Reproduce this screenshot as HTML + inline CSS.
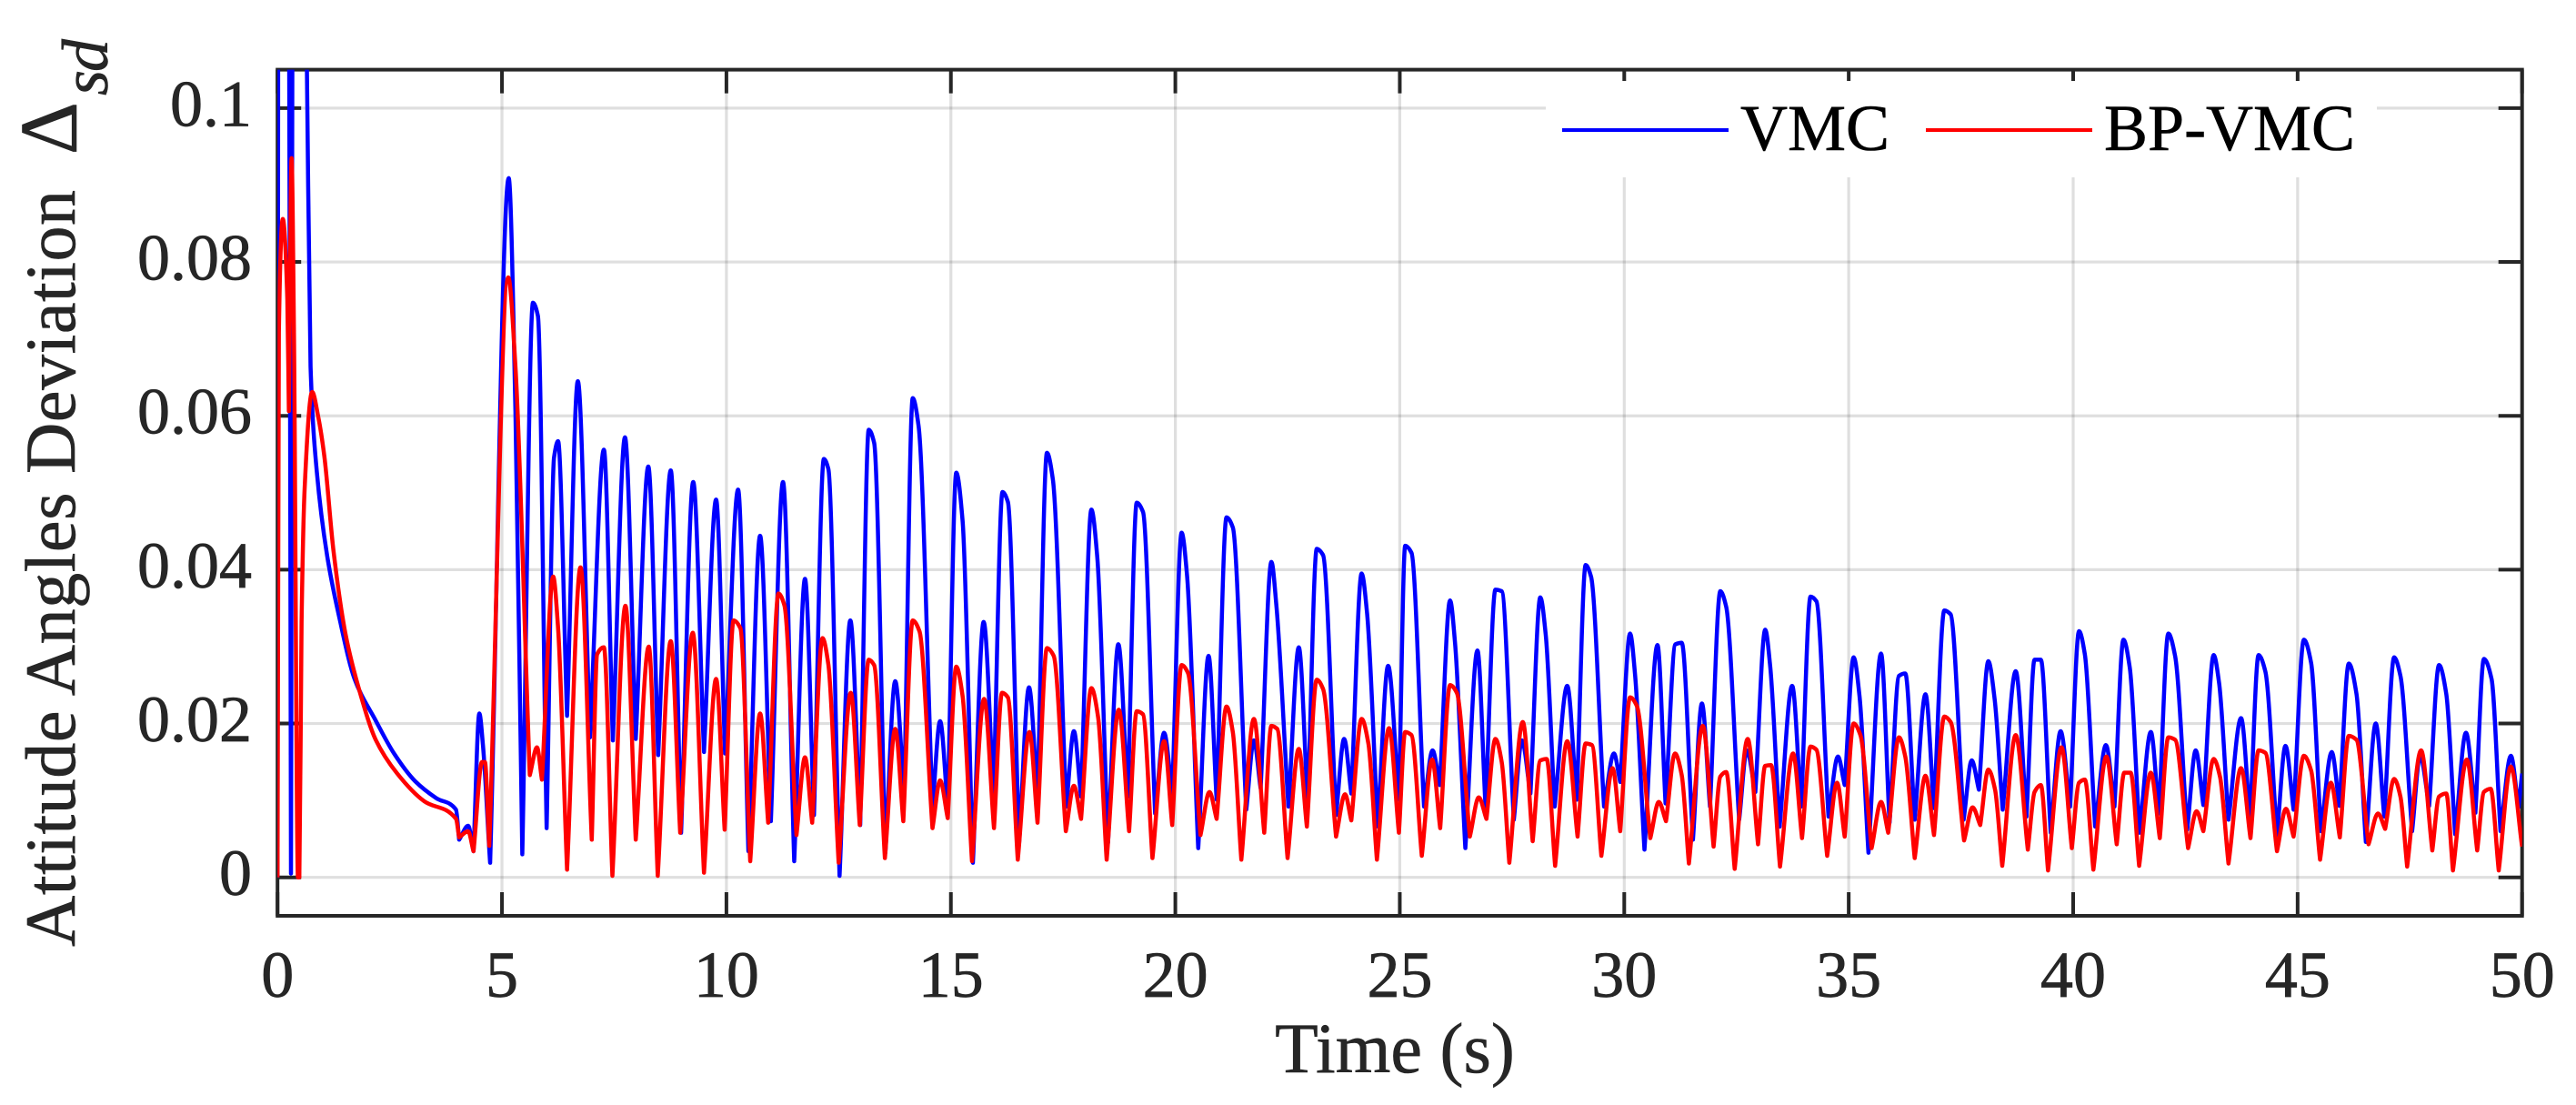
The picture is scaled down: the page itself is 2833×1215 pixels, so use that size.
<!DOCTYPE html>
<html lang="en">
<head>
<meta charset="utf-8">
<title>Attitude Angles Deviation</title>
<style>
html,body{margin:0;padding:0;background:#fff;width:2833px;height:1215px;overflow:hidden}
svg{display:block}
text{font-family:"Liberation Serif",serif}
</style>
</head>
<body>
<svg id="chart" width="2833" height="1215" viewBox="0 0 2833 1215" xmlns="http://www.w3.org/2000/svg">
  <defs><clipPath id="plot-clip"><rect x="305.2" y="76.6" width="2468.5" height="930.4"/></clipPath></defs>
  <rect x="0" y="0" width="2833" height="1215" fill="#fff"/>
  <g id="grid"></g>
  <g id="axes"></g>
  <g id="series" clip-path="url(#plot-clip)"></g>
  <g>
    <rect x="1700" y="89" width="914" height="106" fill="#fff"/>
    <line x1="1718" y1="143" x2="1901" y2="143" stroke="#0000ff" stroke-width="4"/>
    <text x="1914" y="165" font-size="72" fill="#000" stroke="#000" stroke-width="0.6">VMC</text>
    <line x1="2118" y1="143" x2="2301" y2="143" stroke="#ff0000" stroke-width="4"/>
    <text x="2314" y="165" font-size="72" fill="#000" stroke="#000" stroke-width="0.6">BP-VMC</text>
  </g>
  <text x="1534" y="1179" font-size="78" fill="#262626" stroke="#262626" stroke-width="0.6" text-anchor="middle">Time (s)</text>
  <g fill="#262626" stroke="#262626" stroke-width="0.6">
    <text transform="translate(82,1041) rotate(-90)" font-size="78" textLength="832">Attitude Angles Deviation</text>
    <text transform="translate(84,170) rotate(-90)" font-size="90">Δ</text>
    <text transform="translate(118,105) rotate(-90)" font-size="72" font-style="italic" textLength="62">sd</text>
  </g>
</svg>
<script>
const xTickValues = [0, 5, 10, 15, 20, 25, 30, 35, 40, 45, 50];
const yTickValues = [0, 0.02, 0.04, 0.06, 0.08, 0.1];
const xTickLabels = ['0', '5', '10', '15', '20', '25', '30', '35', '40', '45', '50'];
const yTickLabels = ['0', '0.02', '0.04', '0.06', '0.08', '0.1'];

const vmcTime = [
0,.008,.02,.25,.3,.345,.6,.655,.736,.876,1.106,1.376,1.716,2.186,2.596,3.066,3.536,3.976,4.046,4.246,4.366,4.496,4.576,4.736,
5.15,5.3,5.453,5.69,5.8,5.995,6.16,6.25,6.45,6.69,6.96,7.27,7.47,7.74,7.98,8.26,8.48,8.76,8.99,9.26,9.5,9.77,9.97,
10.26,10.49,10.75,10.99,11.26,11.51,11.75,11.95,12.17,12.27,12.52,12.76,12.98,13.17,13.29,13.54,13.76,13.96,14.15,14.28,14.59,14.76,14.93,
15.12,15.26,15.49,15.73,15.95,16.15,16.27,16.52,16.74,16.93,17.14,17.27,17.57,17.74,17.9,18.13,18.26,18.5,18.73,18.94,19.14,19.28,19.55,19.75,19.93,
20.14,20.26,20.51,20.74,20.92,21.14,21.28,21.58,21.75,21.9,22.14,22.25,22.52,22.75,22.95,23.15,23.29,23.58,23.76,23.92,24.15,24.27,24.51,24.74,24.98,
25.12,25.26,25.54,25.73,25.89,26.12,26.23,26.46,26.73,26.91,27.13,27.27,27.54,27.72,27.91,28.13,28.25,28.45,28.73,28.94,29.14,29.26,29.55,29.77,29.91,
30.13,30.24,30.45,30.74,30.92,31.14,31.28,31.53,31.73,31.91,32.14,32.27,32.56,32.73,32.92,33.14,33.25,33.46,33.74,33.94,34.15,34.28,34.55,34.76,34.91,
35.11,35.24,35.44,35.72,35.91,36.12,36.26,36.47,36.71,36.9,37.13,37.27,37.56,37.74,37.9,38.11,38.25,38.43,38.72,38.96,39.14,39.28,39.5,39.72,39.93,
40.13,40.26,40.49,40.73,40.92,41.12,41.26,41.48,41.73,41.91,42.12,42.27,42.54,42.73,42.9,43.13,43.25,43.46,43.74,43.94,44.13,44.28,44.54,44.73,44.91,
45.14,45.3,45.52,45.76,45.93,46.14,46.31,46.52,46.74,46.93,47.15,47.29,47.55,47.73,47.93,48.15,48.31,48.51,48.75,48.96,49.15,49.32,49.52,49.75,49.92,50
];
const vmcDeviation = [
0,.06,.13,.13,.0005,.13,.13,.105,.0664,.0527,.0418,.0338,.0258,.0204,.0161,.0125,.0103,.0088,.0049,.0067,.0034,.0213,.0172,.0019,
.0909,.0606,.003,.0747,.073,.0064,.0546,.0567,.021,.0645,.0182,.0556,.0178,.0572,.018,.0534,.0159,.0529,.0058,.0514,.0163,.0491,.0161,
.0504,.0034,.0444,.0073,.0514,.0021,.0388,.0081,.0544,.0531,.0002,.0334,.0068,.0582,.0565,.0032,.0255,.0109,.0623,.0587,.0092,.0203,.0092,
.0526,.0464,.0019,.0332,.0109,.0501,.0488,.0045,.0247,.0105,.0552,.0518,.0092,.019,.0105,.0478,.0417,.0045,.0303,.0105,.0487,.0475,.0083,.0188,.0109,
.0448,.0393,.0038,.0288,.0101,.0468,.0455,.0088,.0178,.0116,.041,.0354,.0092,.0299,.0096,.0427,.0419,.0081,.018,.0109,.0395,.0344,.0066,.0275,.0101,
.0431,.0422,.0092,.0165,.012,.036,.0305,.0038,.0295,.0092,.0374,.0372,.0075,.0178,.0109,.0364,.0316,.0092,.0249,.0101,.0406,.0391,.0092,.0161,.0124,
.0317,.0264,.0036,.0302,.0096,.0303,.0305,.0049,.0226,.0092,.0372,.0352,.0075,.0165,.0111,.0322,.0275,.0066,.0249,.0092,.0365,.0359,.0079,.0157,.012,
.0286,.0236,.0032,.0291,.0071,.0262,.0265,.0075,.0238,.009,.0347,.0342,.0075,.0152,.0114,.0281,.0232,.0088,.0268,.0079,.0283,.0283,.0058,.019,.0092,
.032,.029,.0066,.0172,.0092,.0309,.0273,.0058,.0189,.0083,.0317,.0288,.0062,.0165,.0094,.0289,.0253,.0075,.0207,.0077,.0289,.0268,.0055,.0171,.0088,
.0309,.0279,.006,.0163,.0093,.0278,.0239,.0046,.02,.0079,.0286,.0262,.006,.0158,.0093,.0276,.0239,.0056,.0188,.0084,.0284,.0258,.006,.0158,.0091,.0135
];

const bpVmcTime = [
0,.03,.118,.219,.253,.313,.366,.456,.486,.536,.604,.772,.906,1.042,1.246,1.516,1.853,2.186,2.666,3.266,3.976,4.046,4.246,4.366,4.556,4.62,4.716,
5.14,5.3,5.62,5.78,5.89,6.14,6.25,6.45,6.75,7,7.12,7.27,7.46,7.75,7.98,8.27,8.47,8.76,8.97,9.25,9.5,9.77,9.96,
10.16,10.31,10.53,10.75,10.93,11.16,11.29,11.56,11.75,11.91,12.14,12.27,12.5,12.77,12.97,13.17,13.29,13.53,13.76,13.94,14.15,14.3,14.59,14.76,14.93,
15.12,15.26,15.47,15.74,15.96,16.14,16.27,16.49,16.75,16.93,17.14,17.29,17.56,17.74,17.9,18.13,18.28,18.47,18.74,18.97,19.14,19.28,19.49,19.75,19.93,
20.14,20.28,20.56,20.76,20.92,21.14,21.28,21.47,21.75,21.98,22.14,22.27,22.5,22.75,22.93,23.15,23.29,23.58,23.78,23.92,24.15,24.3,24.49,24.76,24.98,
25.12,25.26,25.49,25.72,25.9,26.12,26.27,26.56,26.76,26.93,27.13,27.27,27.44,27.74,27.96,28.13,28.27,28.46,28.73,28.96,29.14,29.28,29.49,29.74,29.91,
30.13,30.28,30.58,30.77,30.93,31.13,31.28,31.44,31.75,31.99,32.14,32.27,32.46,32.75,32.98,33.14,33.27,33.47,33.76,33.96,34.15,34.28,34.52,34.74,34.91,
35.11,35.26,35.51,35.72,35.88,36.12,36.26,36.47,36.71,36.9,37.13,37.27,37.57,37.76,37.93,38.11,38.26,38.42,38.72,38.99,39.14,39.28,39.44,39.74,39.97,
40.13,40.26,40.45,40.74,40.97,41.14,41.28,41.47,41.73,41.93,42.12,42.27,42.56,42.75,42.9,43.13,43.27,43.46,43.74,43.95,44.13,44.28,44.54,44.74,44.91,
45.14,45.3,45.5,45.74,45.94,46.14,46.31,46.58,46.79,46.95,47.15,47.29,47.44,47.75,48,48.15,48.31,48.46,48.77,49,49.15,49.3,49.48,49.75,50
];
const bpVmcDeviation = [
0,.0708,.0856,.0751,.0606,.0935,.0708,0,0,.0332,.0505,.0631,.0599,.0548,.0425,.0316,.0237,.0179,.0135,.0099,.0076,.0052,.006,.0034,.015,.015,.0041,
.078,.0664,.0133,.0169,.0127,.0391,.0324,.001,.0403,.0049,.029,.0299,.0002,.0353,.0049,.03,.0002,.0307,.0058,.0318,.0006,.0258,.0062,
.0334,.0324,.0021,.0213,.0071,.0369,.0354,.0055,.0156,.0071,.0311,.0277,.0019,.024,.0068,.0283,.0276,.0025,.0193,.0073,.0334,.032,.0064,.0126,.0077,
.0274,.0236,.0021,.0232,.0064,.024,.0234,.0023,.0189,.0071,.0298,.0288,.006,.0119,.0076,.0246,.0208,.0023,.0218,.006,.0216,.0212,.0025,.0177,.0068,
.0276,.0266,.0055,.0111,.0076,.0222,.0189,.0023,.0206,.0058,.0197,.0193,.0025,.0167,.0066,.0257,.0245,.0053,.0108,.0074,.0206,.0174,.0023,.0194,.0058,
.0189,.0185,.0028,.0153,.0064,.025,.024,.0053,.0104,.0076,.018,.015,.0019,.0202,.0047,.0152,.0154,.0015,.0177,.0053,.0174,.0172,.0028,.0142,.006,
.0234,.0223,.0051,.0098,.0073,.0161,.0133,.0018,.0197,.004,.0131,.0137,.0011,.018,.0043,.0145,.0146,.0014,.0161,.0051,.017,.0166,.0028,.0123,.0053,
.02,.0185,.0038,.0098,.0058,.0182,.0157,.0025,.0132,.0055,.0209,.0202,.0048,.0091,.0068,.014,.0114,.0015,.0185,.0036,.0111,.012,.0009,.0169,.0038,
.0123,.0127,.001,.0157,.0043,.0136,.0136,.0015,.0136,.0051,.0182,.0179,.0038,.0086,.006,.0154,.0131,.0018,.0142,.0051,.0165,.0162,.0034,.0089,.0053,
.0158,.0139,.0023,.0123,.0052,.0184,.0179,.0043,.0083,.0063,.0128,.0105,.0014,.0165,.0035,.0105,.0109,.0009,.0153,.0035,.0111,.0115,.0009,.0144,.004
];

const SVGNS = 'http://www.w3.org/2000/svg';
const plotLeft = 305.2, plotRight = 2773.7;
const zeroY = 964.7, yPerUnit = 8458;
const xDomainMax = 50, yDomainMin = -0.005, yDomainMax = 0.105;
const troughSharpness = 0.9;
function xScale(t) { return plotLeft + (t / xDomainMax) * (plotRight - plotLeft); }
function yScale(v) { return zeroY - v * yPerUnit; }
const plotTop = yScale(yDomainMax), plotBottom = yScale(yDomainMin);

function makeLine(x1, y1, x2, y2, color, width) {
  const l = document.createElementNS(SVGNS, 'line');
  l.setAttribute('x1', x1); l.setAttribute('y1', y1);
  l.setAttribute('x2', x2); l.setAttribute('y2', y2);
  l.setAttribute('stroke', color); l.setAttribute('stroke-width', width);
  return l;
}
function makeText(x, y, str, anchor) {
  const t = document.createElementNS(SVGNS, 'text');
  t.setAttribute('x', x); t.setAttribute('y', y);
  t.setAttribute('font-size', '72'); t.setAttribute('fill', '#262626');
  t.setAttribute('stroke', '#262626'); t.setAttribute('stroke-width', '0.7');
  t.setAttribute('text-anchor', anchor);
  t.textContent = str;
  return t;
}
function monotonePath(ts, vs) {
  const xs = ts.map(xScale), ys = vs.map(yScale), n = xs.length;
  const d = [], mOut = new Array(n), mIn = new Array(n);
  for (let i = 0; i < n - 1; i++) d.push((ys[i + 1] - ys[i]) / (xs[i + 1] - xs[i]));
  mOut[0] = mIn[0] = d[0]; mOut[n - 1] = mIn[n - 1] = d[n - 2];
  for (let i = 1; i < n - 1; i++) {
    if (d[i - 1] > 0 && d[i] < 0) {
      /* local value minimum: narrow trough with a slight kink */
      mIn[i] = d[i - 1] * troughSharpness;
      mOut[i] = d[i] * troughSharpness;
      continue;
    }
    if (d[i - 1] * d[i] <= 0) { mIn[i] = mOut[i] = 0; continue; }
    const h0 = xs[i] - xs[i - 1], h1 = xs[i + 1] - xs[i];
    const w1 = 2 * h1 + h0, w2 = h1 + 2 * h0;
    mIn[i] = mOut[i] = (w1 + w2) / (w1 / d[i - 1] + w2 / d[i]);
  }
  let p = 'M' + xs[0].toFixed(2) + ' ' + ys[0].toFixed(2);
  for (let i = 0; i < n - 1; i++) {
    const h = (xs[i + 1] - xs[i]) / 3;
    p += 'C' + (xs[i] + h).toFixed(2) + ' ' + (ys[i] + mOut[i] * h).toFixed(2) + ' ' +
         (xs[i + 1] - h).toFixed(2) + ' ' + (ys[i + 1] - mIn[i + 1] * h).toFixed(2) + ' ' +
         xs[i + 1].toFixed(2) + ' ' + ys[i + 1].toFixed(2);
  }
  return p;
}

const gridGroup = document.getElementById('grid');
const axesGroup = document.getElementById('axes');
const seriesGroup = document.getElementById('series');
const axisColor = '#262626';

xTickValues.forEach(function (t, i) {
  const x = xScale(t);
  const g = makeLine(x, plotTop, x, plotBottom, 'rgba(38,38,38,0.15)', 3.2);
  
  
  gridGroup.appendChild(g);
  const b = makeLine(x, plotBottom, x, plotBottom - 26, axisColor, 4);
  
  
  axesGroup.appendChild(b);
  const u = makeLine(x, plotTop, x, plotTop + 26, axisColor, 4);
  
  
  axesGroup.appendChild(u);
  const lab = makeText(x, 1096, xTickLabels[i], 'middle');
  
  
  axesGroup.appendChild(lab);
});
yTickValues.forEach(function (v, i) {
  const y = yScale(v);
  const g = makeLine(plotLeft, y, plotRight, y, 'rgba(38,38,38,0.15)', 3.2);
  
  
  gridGroup.appendChild(g);
  const a = makeLine(plotLeft, y, plotLeft + 26, y, axisColor, 4);
  
  
  axesGroup.appendChild(a);
  const c = makeLine(plotRight, y, plotRight - 26, y, axisColor, 4);
  
  
  axesGroup.appendChild(c);
  const lab = makeText(277, y + 19.5, yTickLabels[i], 'end');
  
  
  axesGroup.appendChild(lab);
});
const frame = document.createElementNS(SVGNS, 'rect');
frame.setAttribute('x', plotLeft);
frame.setAttribute('y', plotTop);
frame.setAttribute('width', plotRight - plotLeft);
frame.setAttribute('height', plotBottom - plotTop);
frame.setAttribute('fill', 'none');
frame.setAttribute('stroke', axisColor);
frame.setAttribute('stroke-width', '4');


axesGroup.appendChild(frame);

const vmcPath = document.createElementNS(SVGNS, 'path');
vmcPath.setAttribute('d', monotonePath(vmcTime, vmcDeviation));
vmcPath.setAttribute('fill', 'none');
vmcPath.setAttribute('stroke', '#0000ff');
vmcPath.setAttribute('stroke-width', '4.5');
vmcPath.setAttribute('stroke-linejoin', 'round');


seriesGroup.appendChild(vmcPath);

const bpVmcPath = document.createElementNS(SVGNS, 'path');
bpVmcPath.setAttribute('d', monotonePath(bpVmcTime, bpVmcDeviation));
bpVmcPath.setAttribute('fill', 'none');
bpVmcPath.setAttribute('stroke', '#ff0000');
bpVmcPath.setAttribute('stroke-width', '4.5');
bpVmcPath.setAttribute('stroke-linejoin', 'round');


seriesGroup.appendChild(bpVmcPath);
</script>
</body>
</html>
